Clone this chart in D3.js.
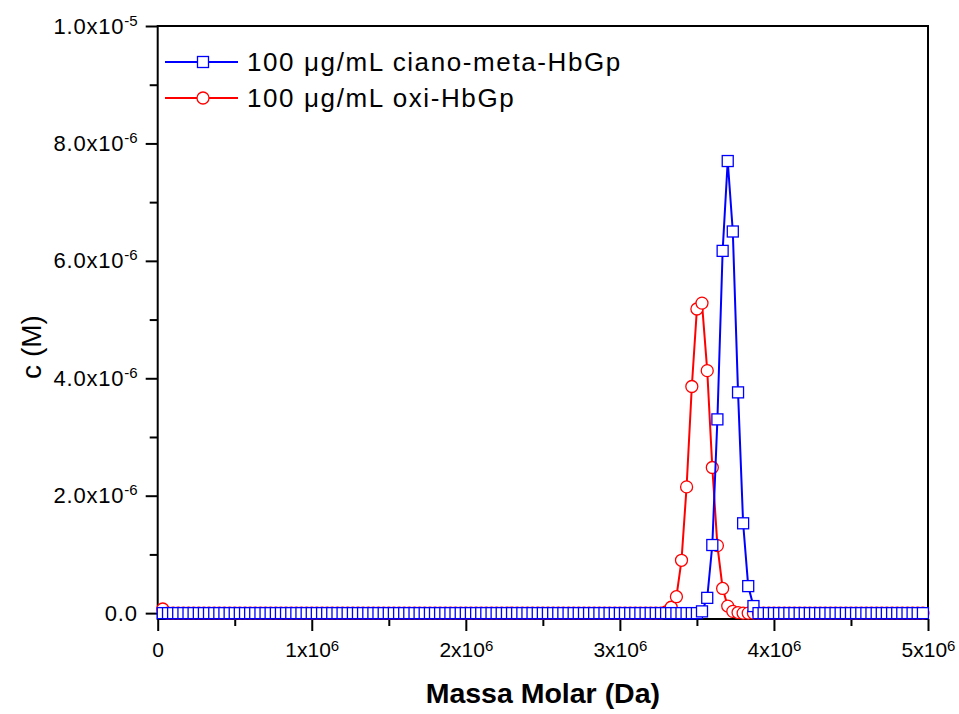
<!DOCTYPE html>
<html>
<head>
<meta charset="utf-8">
<script src="https://cdn.jsdelivr.net/npm/d3@7"></script>
<style>
  body { margin: 0; background: #fff; }
  text { font-family: "Liberation Sans", Arial, sans-serif; fill: #000; }
</style>
</head>
<body>
<div id="chart"></div>
<script>
// Molar mass grid (x10^6 Da)
const massMDa = [
  0.033,0.067,0.100,0.133,0.167,0.200,0.233,0.267,0.300,0.333,0.367,0.400,0.433,0.467,0.500,
  0.533,0.567,0.600,0.633,0.667,0.700,0.733,0.767,0.800,0.833,0.867,0.900,0.933,0.967,1.000,
  1.033,1.067,1.100,1.133,1.167,1.200,1.233,1.267,1.300,1.333,1.367,1.400,1.433,1.467,1.500,
  1.533,1.567,1.600,1.633,1.667,1.700,1.733,1.767,1.800,1.833,1.867,1.900,1.933,1.967,2.000,
  2.033,2.067,2.100,2.133,2.167,2.200,2.233,2.267,2.300,2.333,2.367,2.400,2.433,2.467,2.500,
  2.533,2.567,2.600,2.633,2.667,2.700,2.733,2.767,2.800,2.833,2.867,2.900,2.933,2.967,3.000,
  3.033,3.067,3.100,3.133,3.167,3.200,3.233,3.267,3.300,3.333,3.367,3.400,3.433,3.467,3.500,
  3.533,3.567,3.600,3.633,3.667,3.700,3.733,3.767,3.800,3.833,3.867,3.900,3.933,3.967,4.000,
  4.033,4.067,4.100,4.133,4.167,4.200,4.233,4.267,4.300,4.333,4.367,4.400,4.433,4.467,4.500,
  4.533,4.567,4.600,4.633,4.667,4.700,4.733,4.767,4.800,4.833,4.867,4.900,4.933,4.967
];

// c (x10^-6 M), 100 ug/mL ciano-meta-HbGp
const cianoMeta = [
  0,0,0,0,0,0,0,0,0,0,0,0,0,0,0,
  0,0,0,0,0,0,0,0,0,0,0,0,0,0,0,
  0,0,0,0,0,0,0,0,0,0,0,0,0,0,0,
  0,0,0,0,0,0,0,0,0,0,0,0,0,0,0,
  0,0,0,0,0,0,0,0,0,0,0,0,0,0,0,
  0,0,0,0,0,0,0,0,0,0,0,0,0,0,0,
  0,0,0,0,0,0,0,0,0,0,0,0,0,0,0,
  0.03,0.26,1.16,3.30,6.17,7.70,6.50,3.76,1.53,0.46,0.12,0,0,0,0,
  0,0,0,0,0,0,0,0,0,0,0,0,0,0,0,
  0,0,0,0,0,0,0,0,0,0,0,0,0,0
];

// c (x10^-6 M), 100 ug/mL oxi-HbGp
const oxi = [
  0.07,0,0,0,0,0,0,0,0,0,0,0,0,0,0,
  0,0,0,0,0,0,0,0,0,0,0,0,0,0,0,
  0,0,0,0,0,0,0,0,0,0,0,0,0,0,0,
  0,0,0,0,0,0,0,0,0,0,0,0,0,0,0,
  0,0,0,0,0,0,0,0,0,0,0,0,0,0,0,
  0,0,0,0,0,0,0,0,0,0,0,0,0,0,0,
  0,0,0,0,0,0,0,0,0.02,0.10,0.28,0.90,2.15,3.86,5.18,
  5.28,4.13,2.48,1.15,0.42,0.12,0.03,0.01,0,0,0,0,0,0,0,
  0,0,0,0,0,0,0,0,0,0,0,0,0,0,0,
  0,0,0,0,0,0,0,0,0,0,0,0,0,0
];

const xTicks = [0, 1, 2, 3, 4, 5];
const xMinor = [0.5, 1.5, 2.5, 3.5, 4.5];
const yTicks = [0, 2, 4, 6, 8, 10];
const yMinor = [1, 3, 5, 7, 9];
const yTickMant = ["0.0", "2.0", "4.0", "6.0", "8.0", "1.0"];
const yTickExp = ["", "-6", "-6", "-6", "-6", "-5"];
const seriesNames = ["100 \u03bcg/mL ciano-meta-HbGp", "100 \u03bcg/mL oxi-HbGp"];

const W = 959, H = 714;
const pLeft = 157.7, pRight = 928, pTop = 26, pBottom = 619;

const svg = d3.select("#chart").append("svg")
    .attr("width", W)
    .attr("height", H);

const x = d3.scaleLinear().domain([0, 5]).range([pLeft, pRight]);
const y = d3.scaleLinear().domain([-0.1, 10]).range([pBottom, pTop]);

// frame
svg.append("rect")
    .attr("x", pLeft).attr("y", pTop)
    .attr("width", pRight - pLeft).attr("height", pBottom - pTop)
    .attr("fill", "none").attr("stroke", "#000").attr("stroke-width", 2);

// minor ticks
svg.append("g")
    .attr("transform", "translate(0," + pBottom + ")")
    .call(d3.axisBottom(x).tickValues(xMinor).tickSize(7).tickFormat(""))
    .call(g => g.select(".domain").remove())
    .call(g => g.selectAll("line").attr("stroke-width", 2));
svg.append("g")
    .attr("transform", "translate(" + pLeft + ",0)")
    .call(d3.axisLeft(y).tickValues(yMinor).tickSize(8).tickFormat(""))
    .call(g => g.select(".domain").remove())
    .call(g => g.selectAll("line").attr("stroke-width", 2));

// X axis
const gx = svg.append("g")
    .attr("transform", "translate(0," + pBottom + ")")
    .call(d3.axisBottom(x).tickValues(xTicks).tickSize(12).tickPadding(11))
    .call(g => g.select(".domain").remove())
    .call(g => g.selectAll("line").attr("stroke-width", 2));
gx.selectAll(".tick text")
    .attr("font-size", 21)
    .attr("font-family", null)
    .each(function(d) {
        const t = d3.select(this).text(null);
        if (d === 0) { t.text("0"); return; }
        t.append("tspan").text(d + "x10");
        t.append("tspan").attr("font-size", 15).attr("dy", -6).text("6");
    });

// Y axis
const gy = svg.append("g")
    .attr("transform", "translate(" + pLeft + ",0)")
    .call(d3.axisLeft(y).tickValues(yTicks).tickSize(12).tickPadding(8))
    .call(g => g.select(".domain").remove())
    .call(g => g.selectAll("line").attr("stroke-width", 2));
gy.selectAll(".tick text")
    .attr("font-size", 22)
    .attr("letter-spacing", 0.8)
    .attr("font-family", null)
    .each(function(d, i) {
        const t = d3.select(this).text(null);
        if (!yTickExp[i]) { t.text(yTickMant[i]); return; }
        t.append("tspan").text(yTickMant[i] + "x10");
        t.append("tspan").attr("font-size", 15).attr("dy", -8).attr("letter-spacing", 0).text(yTickExp[i]);
    });

// axis titles
svg.append("text")
    .attr("x", (pLeft + pRight) / 2).attr("y", 703)
    .attr("text-anchor", "middle")
    .attr("font-size", 28.5).attr("font-weight", "bold")
    .text("Massa Molar (Da)");
svg.append("text")
    .attr("transform", "translate(41," + 347 + ") rotate(-90)")
    .attr("text-anchor", "middle")
    .attr("font-size", 28)
    .text("c (M)");

// series
const line = d3.line()
    .x(d => x(d[0]))
    .y(d => y(d[1]));

const oxiPts = massMDa.map((m, i) => [m, oxi[i]]);
const cianoPts = massMDa.map((m, i) => [m, cianoMeta[i]]);

// oxi-HbGp (red circles)
svg.append("path")
    .datum(oxiPts)
    .attr("d", line)
    .attr("fill", "none").attr("stroke", "#ff0000").attr("stroke-width", 2);
svg.append("g").selectAll("circle")
    .data(oxiPts)
    .enter().append("circle")
    .attr("cx", d => x(d[0]))
    .attr("cy", d => y(d[1]))
    .attr("r", 6)
    .attr("fill", "#fff").attr("stroke", "#ff0000").attr("stroke-width", 1.3);

// ciano-meta-HbGp (blue squares)
svg.append("path")
    .datum(cianoPts)
    .attr("d", line)
    .attr("fill", "none").attr("stroke", "#0000ff").attr("stroke-width", 2);
svg.append("g").selectAll("rect")
    .data(cianoPts)
    .enter().append("rect")
    .attr("x", d => x(d[0]) - 5.5)
    .attr("y", d => y(d[1]) - 5.5)
    .attr("width", 11).attr("height", 11)
    .attr("fill", "#fff").attr("stroke", "#0000ff").attr("stroke-width", 1.3);

// legend
const legend = svg.append("g");
const legY = [62, 98];
const legColors = ["#0000ff", "#ff0000"];
legend.selectAll("line")
    .data(seriesNames)
    .enter().append("line")
    .attr("x1", 165).attr("x2", 238)
    .attr("y1", (d, i) => legY[i]).attr("y2", (d, i) => legY[i])
    .attr("stroke", (d, i) => legColors[i]).attr("stroke-width", 2);
legend.append("rect")
    .attr("x", 203 - 5.5).attr("y", legY[0] - 5.5)
    .attr("width", 11).attr("height", 11)
    .attr("fill", "#fff").attr("stroke", legColors[0]).attr("stroke-width", 1.3);
legend.append("circle")
    .attr("cx", 203).attr("cy", legY[1]).attr("r", 6)
    .attr("fill", "#fff").attr("stroke", legColors[1]).attr("stroke-width", 1.3);
legend.selectAll("text")
    .data(seriesNames)
    .enter().append("text")
    .attr("x", 247)
    .attr("y", (d, i) => legY[i] + 9)
    .attr("font-size", 26)
    .attr("letter-spacing", 1.6)
    .text(d => d);
</script>
</body>
</html>
